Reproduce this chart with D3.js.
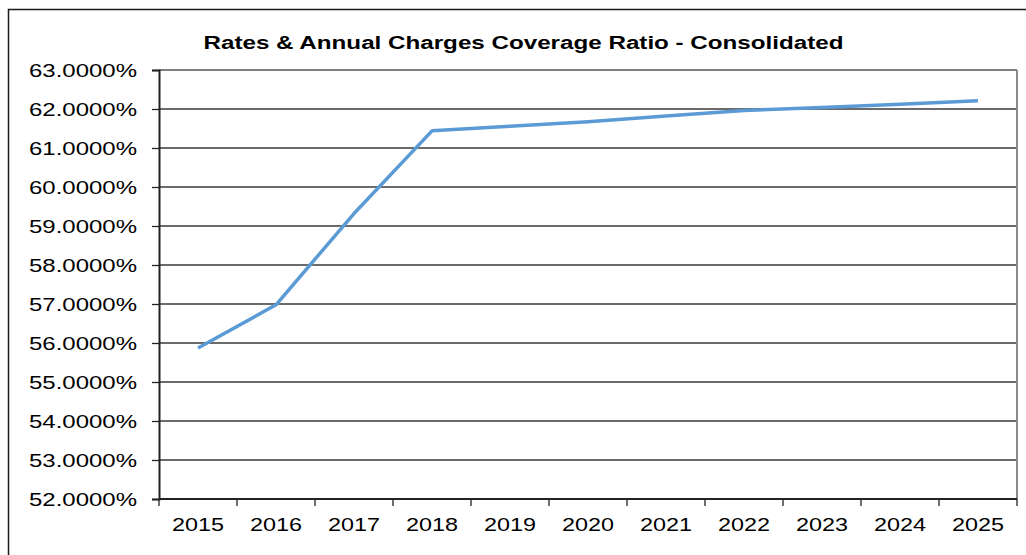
<!DOCTYPE html>
<html>
<head>
<meta charset="utf-8">
<script src="https://cdn.jsdelivr.net/npm/d3@7"></script>
<style>
  html, body { margin: 0; padding: 0; background: #fff; }
  svg { display: block; }
  text { font-family: "Liberation Sans", Arial, sans-serif; fill: #000; }
</style>
</head>
<body>
<svg id="chart" width="1026" height="555"></svg>
<script>
const title = "Rates & Annual Charges Coverage Ratio - Consolidated";
const years = ["2015","2016","2017","2018","2019","2020","2021","2022","2023","2024","2025"];
const ratioValues = [55.87, 56.98, 59.32, 61.44, 61.56, 61.67, 61.82, 61.96, 62.04, 62.12, 62.21];
const yTicks = [52, 53, 54, 55, 56, 57, 58, 59, 60, 61, 62, 63];

const svg = d3.select("#chart");
const W = 1026, H = 555;
const plot = { left: 159, right: 1017, top: 70, bottom: 499 };

// outer chart border (runs past right and bottom edges)
svg.append("rect")
  .attr("x", 8.5).attr("y", 9.5)
  .attr("width", 1040).attr("height", 560)
  .attr("fill", "none").attr("stroke", "#1a1a1a").attr("stroke-width", 1.5);

const x = d3.scaleBand().domain(years).range([plot.left, plot.right]).padding(0);
const y = d3.scaleLinear().domain([52, 63]).range([plot.bottom, plot.top]);

// gridlines
svg.append("g").selectAll("line")
  .data(yTicks.filter(t => t !== 52 && t !== 63))
  .join("line")
  .attr("x1", plot.left).attr("x2", plot.right)
  .attr("y1", d => y(d)).attr("y2", d => y(d))
  .attr("stroke", "#3a3a3a").attr("stroke-width", 1.3);

// plot area border top and right (gray)
svg.append("line")
  .attr("x1", plot.left).attr("x2", plot.right)
  .attr("y1", y(63)).attr("y2", y(63))
  .attr("stroke", "#7f7f7f").attr("stroke-width", 2);
svg.append("line")
  .attr("x1", plot.right).attr("x2", plot.right)
  .attr("y1", plot.top).attr("y2", plot.bottom)
  .attr("stroke", "#8a8a8a").attr("stroke-width", 2);

// Y axis
const yAxis = d3.axisLeft(y).tickValues(yTicks).tickSize(7).tickPadding(15)
  .tickFormat(d => d3.format(".4f")(d) + "%");
const gy = svg.append("g").attr("transform", `translate(${plot.left},0)`).call(yAxis);
gy.select(".domain").attr("stroke", "#222").attr("stroke-width", 2);
gy.selectAll(".tick line").attr("stroke", "#222").attr("stroke-width", 1.3);
gy.selectAll(".tick text")
  .attr("font-size", 18.5)
  .attr("fill", "#111")
  .attr("dy", "0.36em")
  .attr("textLength", 108)
  .attr("lengthAdjust", "spacingAndGlyphs");

// X axis with ticks at category boundaries
const gx = svg.append("g").attr("transform", `translate(0,${plot.bottom})`);
gx.append("line")
  .attr("x1", plot.left).attr("x2", plot.right)
  .attr("stroke", "#222").attr("stroke-width", 2);
const boundaries = years.map(d => x(d)).concat([x(years[years.length - 1]) + x.bandwidth()]);
gx.selectAll("line.tk").data(boundaries).join("line")
  .attr("class", "tk")
  .attr("x1", d => d).attr("x2", d => d)
  .attr("y1", 0).attr("y2", 7)
  .attr("stroke", "#222").attr("stroke-width", 1.3);
gx.selectAll("text").data(years).join("text")
  .attr("x", d => x(d) + x.bandwidth() / 2)
  .attr("y", 32)
  .attr("text-anchor", "middle")
  .attr("font-size", 18.5)
  .attr("fill", "#111")
  .attr("textLength", 52)
  .attr("lengthAdjust", "spacingAndGlyphs")
  .text(d => d);

// line series
const line = d3.line()
  .x((d, i) => x(years[i]) + x.bandwidth() / 2)
  .y(d => y(d));
svg.append("path")
  .datum(ratioValues)
  .attr("d", line)
  .attr("fill", "none")
  .attr("stroke", "#5B9BD5")
  .attr("stroke-width", 3.5)
  .attr("stroke-linejoin", "round");

// title
svg.append("text")
  .attr("x", 523.5).attr("y", 49)
  .attr("text-anchor", "middle")
  .attr("font-size", 18)
  .attr("font-weight", "bold")
  .attr("textLength", 640)
  .attr("lengthAdjust", "spacingAndGlyphs")
  .text(title);
</script>
</body>
</html>
